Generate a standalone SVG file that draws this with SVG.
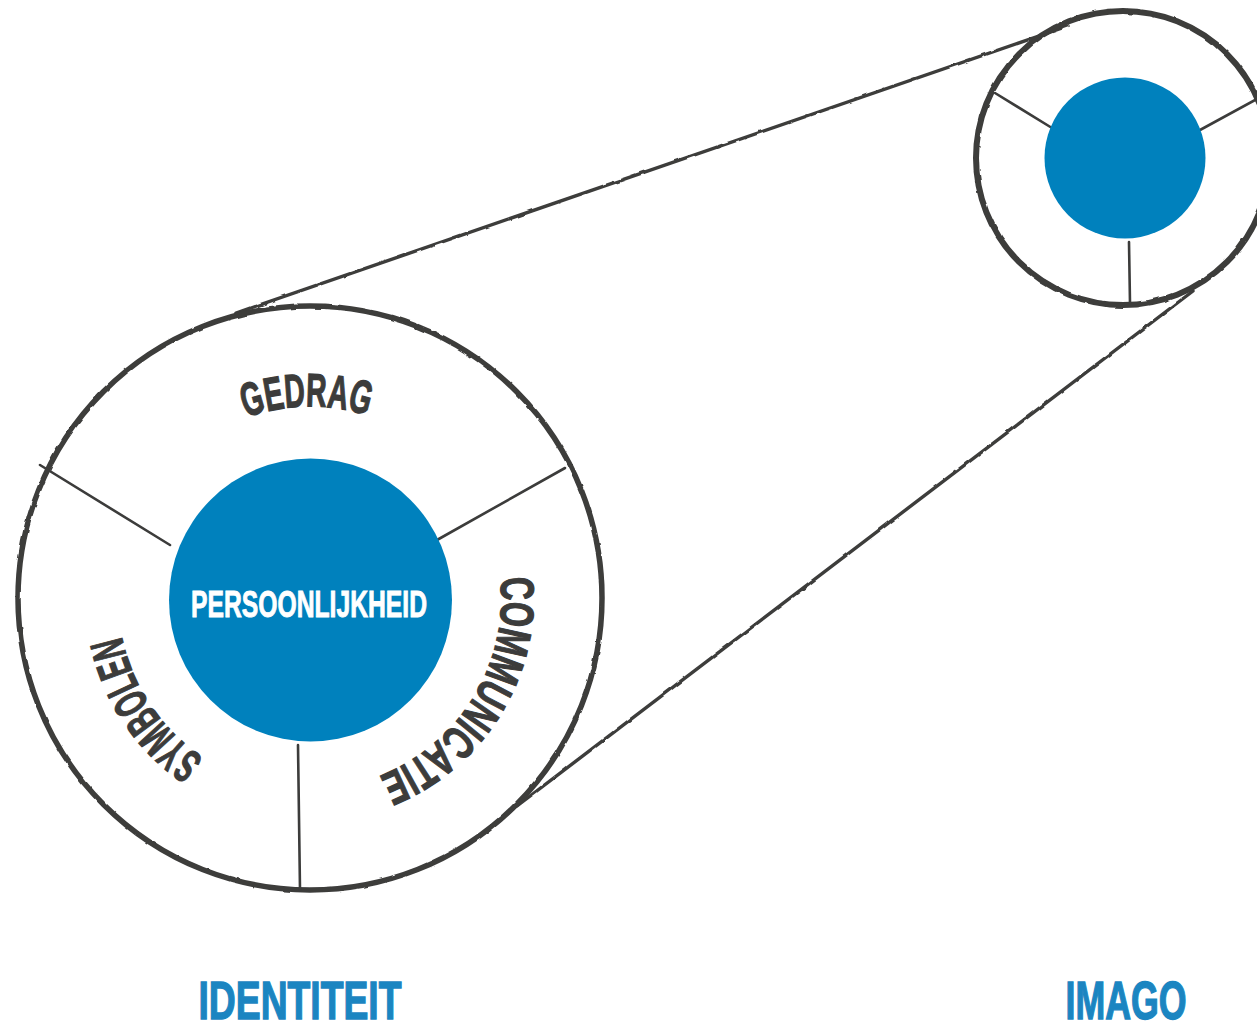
<svg xmlns="http://www.w3.org/2000/svg" width="1257" height="1029" viewBox="0 0 1257 1029">
<style>
.ring{fill:none;stroke:#3c3c3b;stroke-width:5.5;filter:url(#rough)}
.ring2{fill:none;stroke:#3c3c3b;stroke-width:6;filter:url(#rough)}
.div{fill:none;stroke:#3c3c3b;stroke-width:2.6;stroke-linecap:round}
.tan{fill:none;stroke:#3c3c3b;stroke-width:3.4;stroke-linecap:round;filter:url(#rough)}
.core{fill:#0081bd}
.arc{font-family:"Liberation Sans Narrow","Liberation Sans",sans-serif;font-weight:bold;font-size:47px;fill:#3c3c3b;stroke:#3c3c3b;stroke-width:1.3}
.inner{font-family:"Liberation Sans Narrow","Liberation Sans",sans-serif;font-weight:bold;font-size:36px;fill:#ffffff;stroke:#ffffff;stroke-width:0.9}
.title{font-family:"Liberation Sans Narrow","Liberation Sans",sans-serif;font-weight:bold;font-size:53px;fill:#1b85c1;stroke:#1b85c1;stroke-width:1.4}
</style>
<defs>
<filter id="rough" x="-10%" y="-10%" width="120%" height="120%">
<feTurbulence type="fractalNoise" baseFrequency="0.08" numOctaves="2" seed="3" result="n"/>
<feDisplacementMap in="SourceGraphic" in2="n" scale="2.5" xChannelSelector="R" yChannelSelector="G"/>
</filter>
<path id="pGedrag" d="M118.03,601.35 A192,192 0 0 1 501.97,594.65"/>
<path id="pComm" d="M410.0,434.1 A192,192 0 0 1 210.0,761.9"/>
<path id="pSym" d="M417.4,757.2 A192,192 0 0 1 202.6,438.8"/>
</defs>
<g id="connectors">
<path class="tan" d="M236,313 L1068,26"/>
<path class="tan" d="M517,806 L1193,291"/>
</g>
<g id="identiteit">
<circle class="ring" cx="310" cy="598" r="292"/>
<path class="div" d="M40,465 L170,545"/>
<path class="div" d="M565,468 L437,540"/>
<path class="div" d="M298,745 L300,890"/>
<circle class="core" cx="310.5" cy="600" r="141.5"/>
<text class="inner" x="309" y="617" text-anchor="middle" textLength="236" lengthAdjust="spacingAndGlyphs">PERSOONLIJKHEID</text>
<text class="arc"><textPath href="#pGedrag" startOffset="50%" text-anchor="middle" textLength="124" lengthAdjust="spacingAndGlyphs">GEDRAG</textPath></text>
<text class="arc"><textPath href="#pComm" startOffset="50%" text-anchor="middle" textLength="250" lengthAdjust="spacingAndGlyphs">COMMUNICATIE</textPath></text>
<text class="arc"><textPath href="#pSym" startOffset="50%" text-anchor="middle" textLength="151" lengthAdjust="spacingAndGlyphs">SYMBOLEN</textPath></text>
<text class="title" x="300" y="1019" text-anchor="middle" textLength="203" lengthAdjust="spacingAndGlyphs">IDENTITEIT</text>
</g>
<g id="imago">
<circle class="ring2" cx="1123" cy="158" r="147"/>
<path class="div" d="M995,93 L1052,128"/>
<path class="div" d="M1257,99 L1200,130"/>
<path class="div" d="M1129,242 L1130,303"/>
<circle class="core" cx="1125" cy="158" r="80.5"/>
<text class="title" x="1126" y="1019" text-anchor="middle" textLength="121" lengthAdjust="spacingAndGlyphs">IMAGO</text>
</g>
</svg>
